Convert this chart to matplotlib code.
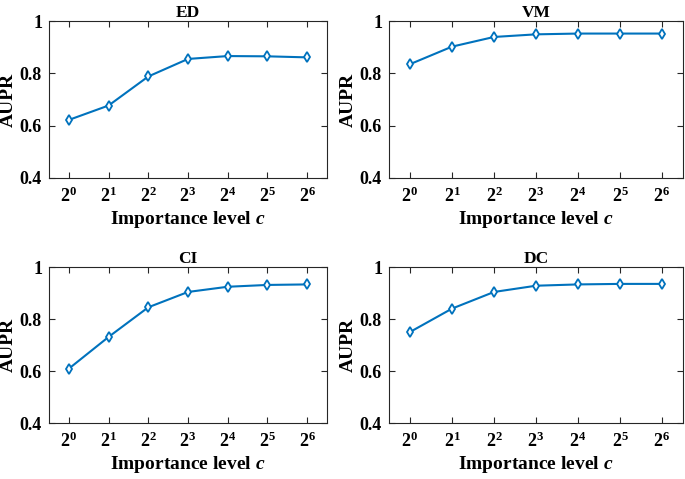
import matplotlib
matplotlib.use("Agg")
import matplotlib.pyplot as plt

plt.rcParams["font.family"] = "Liberation Serif"
plt.rcParams["font.weight"] = "bold"
plt.rcParams["mathtext.fontset"] = "custom"
plt.rcParams["mathtext.rm"] = "Liberation Serif:bold"
plt.rcParams["mathtext.bf"] = "Liberation Serif:bold"
plt.rcParams["mathtext.it"] = "Liberation Serif:italic:bold"

# data
levels = [1, 2, 3, 4, 5, 6, 7]
level_labels = [r"$\mathbf{2^{%d}}$" % i for i in range(7)]
titles = ["ED", "VM", "CI", "DC"]
aupr_ed = [0.622, 0.677, 0.788, 0.855, 0.866, 0.865, 0.861]
aupr_vm = [0.835, 0.902, 0.939, 0.949, 0.952, 0.952, 0.952]
aupr_ci = [0.609, 0.731, 0.845, 0.904, 0.924, 0.931, 0.933]
aupr_dc = [0.750, 0.840, 0.904, 0.928, 0.933, 0.935, 0.935]
series = [aupr_ed, aupr_vm, aupr_ci, aupr_dc]

W, H = 685, 479
fig = plt.figure(figsize=(W / 100, H / 100), dpi=100)

# axes boxes in pixels: left, top, right, bottom
boxes = [(49, 21, 327, 178), (389, 21, 683, 178),
         (49, 267, 327, 423), (389, 267, 683, 423)]

blue = "#0072BD"
for box, title, vals in zip(boxes, titles, series):
    l, t, r, b = box
    ax = fig.add_axes([l / W, 1 - b / H, (r - l) / W, (b - t) / H])
    ax.plot(levels, vals, color=blue, lw=1.5, marker="d", ms=5,
            mfc="white", mec=blue, mew=1.3)
    ax.set_xlim(0.5, 7.5)
    ax.set_ylim(0.4, 1.0)
    ax.set_xticks(levels)
    ax.set_xticklabels(level_labels)
    ax.set_yticks([0.4, 0.6, 0.8, 1.0])
    ax.set_yticklabels(["0.4", "0.6", "0.8", "1"])
    ax.tick_params(direction="in", top=True, right=True, labelsize=13,
                   length=4, width=0.8, colors="#262626", labelcolor="black")
    ax.tick_params(axis="y", pad=5)
    ax.tick_params(axis="x", pad=6)
    for s in ax.spines.values():
        s.set_color("#262626")
        s.set_linewidth(0.8)
    ax.set_title(title, fontsize=12.5, fontweight="bold", pad=3)
    ax.set_xlabel(r"Importance level $c$", fontsize=14, fontweight="bold", labelpad=2)
    ax.set_ylabel("AUPR", fontsize=14, fontweight="bold")
    # right edge of the rotated label sits about 32 px left of the axes
    ax.yaxis.set_label_coords(-32 / (r - l), 0.5)

plt.savefig("out.png", dpi=100)
